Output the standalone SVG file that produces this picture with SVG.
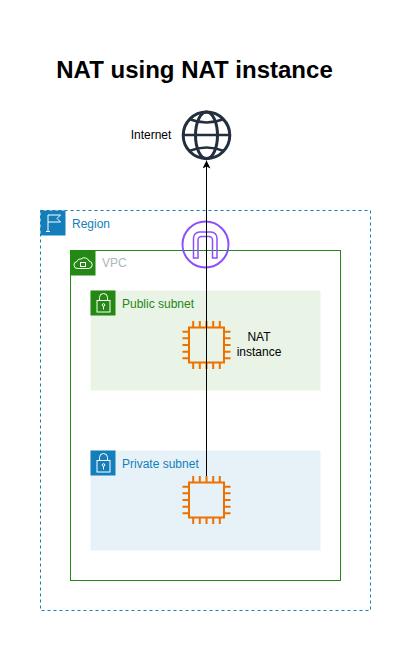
<svg xmlns="http://www.w3.org/2000/svg" width="411" height="651" viewBox="0 0 411 651">
<style>
text{font-family:"Liberation Sans",Arial,sans-serif;font-size:12px}
.ico{fill:none;stroke:#fff;stroke-width:1}
.chip{fill:none;stroke:#ED7100;stroke-width:2}
.pin{fill:none;stroke:#ED7100;stroke-width:2}
</style>
<defs>
<g id="chip">
<rect class="chip" x="-17.500" y="-17.500" width="35" height="35"/>
<path class="pin" d="M-13.300-24V-17.500M-6.700-24V-17.500M0-24V-17.500M6.700-24V-17.500M13.300-24V-17.500M-13.300 17.500V24M-6.700 17.500V24M0 17.500V24M6.700 17.500V24M13.300 17.500V24M-24-13.300H-17.500M-24-6.700H-17.500M-24 0H-17.500M-24 6.700H-17.500M-24 13.300H-17.500M17.500-13.300H24M17.500-6.700H24M17.500 0H24M17.500 6.700H24M17.500 13.300H24"/>
</g>
<g id="lock">
<rect class="ico" x="6.500" y="10" width="13" height="11.500"/>
<path class="ico" d="M9 10V7a4 4 0 0 1 8 0V10"/>
<circle class="ico" cx="13" cy="14.500" r="1.300"/>
<path class="ico" d="M13 15.800V19"/>
</g>
<marker id="arr" markerWidth="8" markerHeight="8" refX="8" refY="4" orient="auto" markerUnits="userSpaceOnUse"><path d="M0 0L8 4L0 8L2 4Z" fill="#000"/></marker>
</defs>
<rect width="411" height="651" fill="#fff"/>
<text x="194.500" y="78" text-anchor="middle" style="font-size:24px;font-weight:bold">NAT using NAT instance</text>
<g id="region">
<rect x="40.500" y="210.500" width="330" height="400" fill="none" stroke="#147EBA" stroke-dasharray="3 3"/>
<rect x="40.500" y="210.500" width="25" height="25" fill="#147EBA"/>
<path class="ico" d="M48 231V215M48 215H60.500L57 218.500L60.500 222H48"/>
<path class="ico" d="M46 231.500H50"/>
<text x="72" y="228" fill="#147EBA">Region</text>
</g>
<g id="vpc">
<rect x="70.500" y="250.500" width="270" height="330" fill="none" stroke="#248814"/>
<rect x="70.500" y="250.500" width="25" height="25" fill="#248814"/>
<path class="ico" d="M78 268.500a3.500 3.500 0 0 1-1-7a3.500 3.500 0 0 1 4-2.500a5 5 0 0 1 8 2a3.800 3.800 0 0 1 0 7.500Z"/>
<rect x="80.500" y="262.500" width="5" height="4" fill="none" stroke="#fff"/>
<text x="102" y="267" fill="#AAB7B8">VPC</text>
</g>
<g id="public-subnet">
<rect x="90.500" y="290.500" width="230" height="100" fill="#E9F3E6"/>
<rect x="90.500" y="290.500" width="25" height="25" fill="#248814"/>
<use href="#lock" x="90.500" y="290.500"/>
<text x="122" y="308" fill="#248814">Public subnet</text>
</g>
<g id="private-subnet">
<rect x="90.500" y="450.500" width="230" height="100" fill="#E6F2F8"/>
<rect x="90.500" y="450.500" width="25" height="25" fill="#147EBA"/>
<use href="#lock" x="90.500" y="450.500"/>
<text x="122" y="468" fill="#147EBA">Private subnet</text>
</g>
<g id="nat-instance">
<use href="#chip" x="206.500" y="345"/>
<text x="259" y="341" text-anchor="middle" fill="#000">NAT</text>
<text x="259" y="356" text-anchor="middle" fill="#000">instance</text>
</g>
<g id="private-instance">
<use href="#chip" x="206.500" y="500"/>
</g>
<g id="internet">
<circle cx="206.500" cy="135.300" r="23.300" fill="none" stroke="#232F3E" stroke-width="3"/>
<ellipse cx="206.500" cy="135.300" rx="11" ry="23.300" fill="none" stroke="#232F3E" stroke-width="3"/>
<path d="M183 135H230M189 119Q206.500 126 224 119M189 151Q206.500 144 224 151" fill="none" stroke="#232F3E" stroke-width="2.500"/>
<text x="151" y="139" text-anchor="middle" fill="#000">Internet</text>
</g>
<g id="internet-gateway">
<circle cx="205.500" cy="244.500" r="23" fill="none" stroke="#8C4FFF" stroke-width="2"/>
<path d="M193.500 258V238a6 6 0 0 1 6-6H211a6 6 0 0 1 6 6V258H212.500V240a3.500 3.500 0 0 0-3.500-3.500H201.500a3.500 3.500 0 0 0-3.500 3.500V258Z" fill="none" stroke="#8C4FFF" stroke-width="1.500"/>
</g>
<g id="connectors">
<path d="M206.500 476V160.500" fill="none" stroke="#000" stroke-width="1" marker-end="url(#arr)"/>
</g>
</svg>
